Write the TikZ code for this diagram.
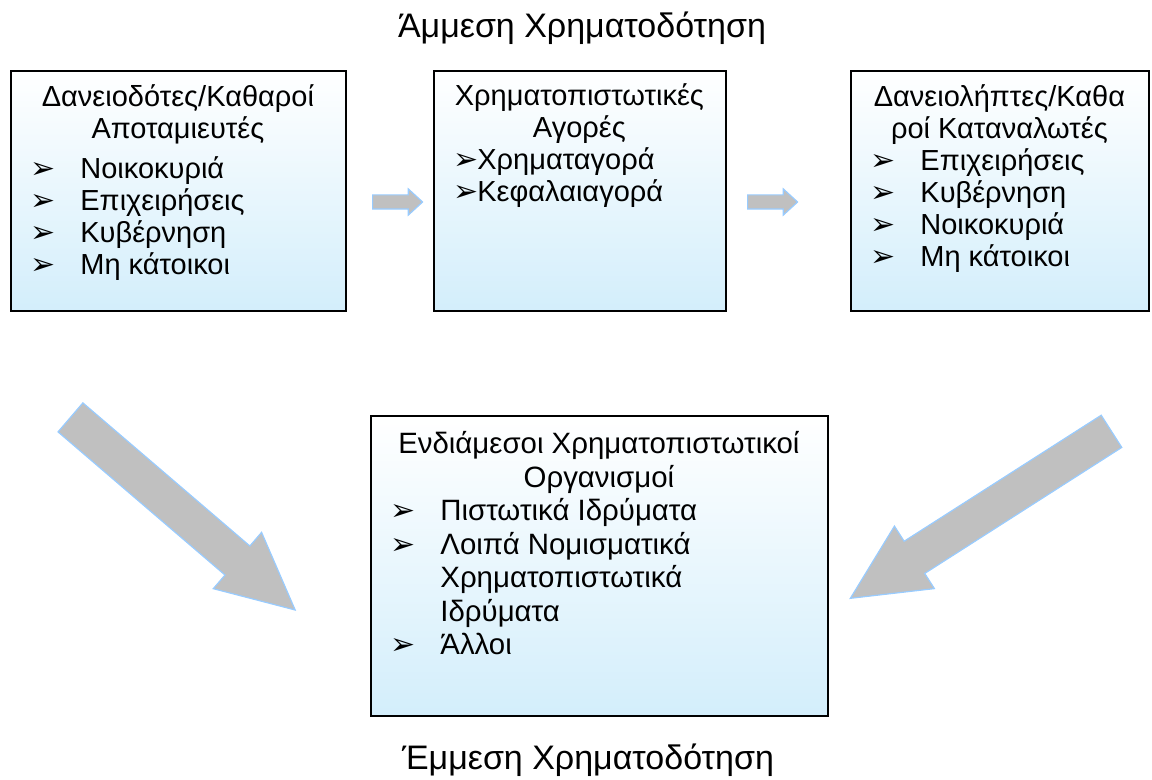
\documentclass[tikz,border=0pt]{standalone}
\usepackage{fontspec}
\setmainfont{Liberation Sans}
\newfontfamily\symfont{DejaVu Sans}
\usetikzlibrary{shapes.arrows,calc}

\definecolor{kastenblau}{RGB}{211,238,251}
\definecolor{pfeilgrau}{RGB}{192,192,192}
\definecolor{pfeilrand}{RGB}{153,204,255}

\newcommand{\bul}{{\symfont\fontsize{15}{16}\selectfont ➢}}
\newcommand{\itm}[2][35pt]{\makebox[#1][l]{\hspace*{10pt}\bul}#2\par}

\tikzset{
  kasten/.style={draw=black, line width=1pt, top color=white, bottom color=kastenblau,
    anchor=north west, inner sep=0pt},
  inhalt/.style={anchor=base west, inner sep=0pt, font=\fontsize{14.5}{16}\selectfont},
  titel/.style={anchor=base, inner sep=0pt, font=\fontsize{17}{20}\selectfont},
  pfeil/.style={single arrow, fill=pfeilgrau, draw=pfeilrand, line width=0.6pt,
    inner xsep=0pt, anchor=tail},
  kleinpfeil/.style={pfeil, minimum height=25pt, inner ysep=3.25pt,
    single arrow head extend=3pt, single arrow tip angle=85},
  grosspfeil/.style={pfeil, inner ysep=9.25pt,
    single arrow head extend=9pt, single arrow tip angle=52},
}

\begin{document}
\begin{tikzpicture}[x=0.5pt,y=-0.5pt]
  \useasboundingbox (0,0) rectangle (1152,780);
  % Ueberschrift oben
  \node[titel] (direkt) at (582,38) {Άμμεση Χρηματοδότηση};
  % Kaesten oben
  \node[kasten, minimum width=167.5pt, minimum height=120pt] (geber) at (10,70) {};
  \node[kasten, minimum width=146pt, minimum height=120pt] (markt) at (433,70) {};
  \node[kasten, minimum width=149pt, minimum height=120pt] (nehmer) at (850,70) {};
  % Kasten unten
  \node[kasten, minimum width=228.5pt, minimum height=150pt] (mittler) at (370,415) {};
  % Texte
  \node[inhalt] (geber-text) at ($(geber.north west)+(0,37)$) {\parbox[t]{167.5pt}{%
    \centering Δανειοδότες/Καθαροί\\Αποταμιευτές\par\vspace{4pt}\raggedright
    \itm{Νοικοκυριά}\itm{Επιχειρήσεις}\itm{Κυβέρνηση}\itm{Μη κάτοικοι}}};
  \node[inhalt] (markt-text) at ($(markt.north west)+(0,36)$) {\parbox[t]{146pt}{%
    \centering Χρηματοπιστωτικές\\Αγορές\par\raggedright
    \itm[22pt]{Χρηματαγορά}\itm[22pt]{Κεφαλαιαγορά}}};
  \node[inhalt] (nehmer-text) at ($(nehmer.north west)+(0,37)$) {\parbox[t]{149pt}{%
    \centering Δανειολήπτες/Καθα\\ροί Καταναλωτές\par\raggedright
    \itm{Επιχειρήσεις}\itm{Κυβέρνηση}\itm{Νοικοκυριά}\itm{Μη κάτοικοι}}};
  \node[inhalt, font=\fontsize{14.7}{16.75}\selectfont] (mittler-text) at ($(mittler.north west)+(0,39)$) {\parbox[t]{228.5pt}{%
    \centering Ενδιάμεσοι Χρηματοπιστωτικοί\\Οργανισμοί\par\raggedright
    \itm{Πιστωτικά Ιδρύματα}\itm{Λοιπά Νομισματικά}%
    \hspace*{35pt}Χρηματοπιστωτικά\par\hspace*{35pt}Ιδρύματα\par
    \itm{Άλλοι}}};
  % Pfeile
  \node[kleinpfeil] (p1) at ($(geber.east)+(25,11)$) {};
  \node[kleinpfeil] (p2) at ($(markt.east)+(20,11)$) {};
  \node[grosspfeil, minimum height=148pt, rotate=-40.6] (p3) at (70,417) {};
  \node[grosspfeil, minimum height=155pt, rotate=-147.4] (p4) at (1112,431) {};
  % Ueberschrift unten
  \node[titel] (indirekt) at (588,769) {Έμμεση Χρηματοδότηση};
\end{tikzpicture}
\end{document}
